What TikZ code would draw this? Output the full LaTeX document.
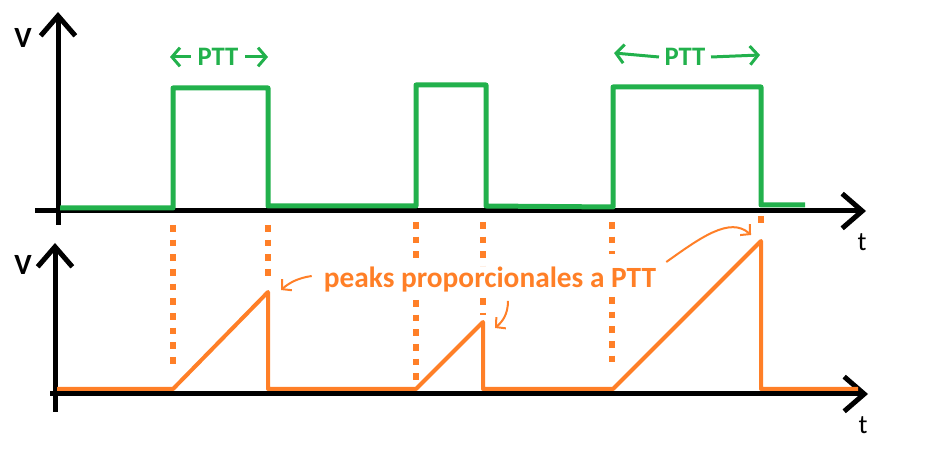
\documentclass[tikz,border=0pt]{standalone}
\usepackage{fontspec}
\setmainfont{Carlito}
\usetikzlibrary{arrows.meta}

\definecolor{paintgreen}{HTML}{22B14C}
\definecolor{paintorange}{HTML}{FF7F27}

\begin{document}
\begin{tikzpicture}[x=0.75pt,y=-0.75pt,
    axis/.style={line width=3.75pt,-{Straight Barb[length=15pt,width=26pt]}},
    pulse/.style={paintgreen,line width=3.75pt,line join=round},
    ramp/.style={paintorange,line width=3pt,line join=round},
    guide/.style={paintorange,line width=4pt,dash pattern=on 5pt off 6pt},
    hint/.style={paintorange,line width=1.5pt,-{Straight Barb[length=5pt,width=11pt]}},
    span/.style={paintgreen,line width=2.25pt,-{Straight Barb[length=6pt,width=14pt]}},
    lbl/.style={inner sep=0pt,font=\fontsize{20}{20}\selectfont}]
    \useasboundingbox (0,0) rectangle (926,452);

    % axes
    \coordinate (Y1) at (58,12);
    \coordinate (X1) at (866,211);
    \coordinate (Y2) at (55,243);
    \coordinate (X2) at (868,394);
    \draw[axis] (58,225) -- (Y1);
    \draw[axis] (35,211) -- (X1);
    \draw[axis] (55,412) -- (Y2);
    \draw[axis] (50,394) -- (X2);

    \node[lbl,font=\fontsize{22}{22}\selectfont\bfseries] (v1) at (23,38) {V};
    \node[lbl] (t1) at (862,242) {t};
    \node[lbl,font=\fontsize{22}{22}\selectfont\bfseries] (v2) at (23,265) {V};
    \node[lbl] (t2) at (863,425) {t};

    % signals
    \draw[pulse] (60,208) -- (173,208) -- (173,88) -- (268,88) -- (268,206)
        -- (416,206) -- (416,85) -- (486,85) -- (486,206) -- (613,207)
        -- (613,87) -- (761,87) -- (761,205) -- (805,205);

    \coordinate (p1) at (268,292);
    \coordinate (p2) at (483,322);
    \coordinate (p3) at (761,241);
    \draw[ramp] (57,389) -- (173,389) -- (p1) -- (268,389) -- (416,389)
        -- (p2) -- (483,389) -- (613,389) -- (p3) -- (761,389) -- (858,389);

    \draw[guide]
        (173,225) -- (173,365)
        (268,225) -- (268,282)
        (416,222) -- (416,258) (416,300) -- (416,380)
        (483,222) -- (483,266) (483,298) -- (483,315)
        (612,222) -- (612,254) (612,297) -- (612,365)
        (761,216) -- (761,224);

    % labels
    \node[lbl,paintgreen,font=\fontsize{20}{20}\selectfont\bfseries] (ptt1) at (218,57) {PTT};
    \node[lbl,paintgreen,font=\fontsize{20}{20}\selectfont\bfseries] (ptt2) at (685,57) {PTT};
    \coordinate (a1) at (170,57);
    \coordinate (b1) at (268,57);
    \coordinate (a2) at (614,53);
    \coordinate (b2) at (760,55);
    \draw[span] ([xshift=-5pt]ptt1.west) -- (a1);
    \draw[span] ([xshift=5pt]ptt1.east) -- (b1);
    \draw[span] ([xshift=-4pt]ptt2.west) -- (a2);
    \draw[span] ([xshift=4pt]ptt2.east) -- (b2);

    \node[lbl,paintorange,font=\fontsize{22}{24}\selectfont\bfseries] (peaks) at (490,280) {peaks proporcionales a PTT};
    \coordinate (h1) at (281,290);
    \coordinate (h2) at (495,328);
    \coordinate (h3) at (751,235);
    \draw[hint] ([shift={(-12,-4)}]peaks.west) .. controls +(-14,2) and +(8,-7) .. (h1);
    \draw[hint] ([shift={(18,8)}]peaks.south) .. controls +(0,14) and +(7,-6) .. (h2);
    \draw[hint] ([shift={(10,-18)}]peaks.east) .. controls (700,238) and (730,216) .. (h3);
\end{tikzpicture}
\end{document}
